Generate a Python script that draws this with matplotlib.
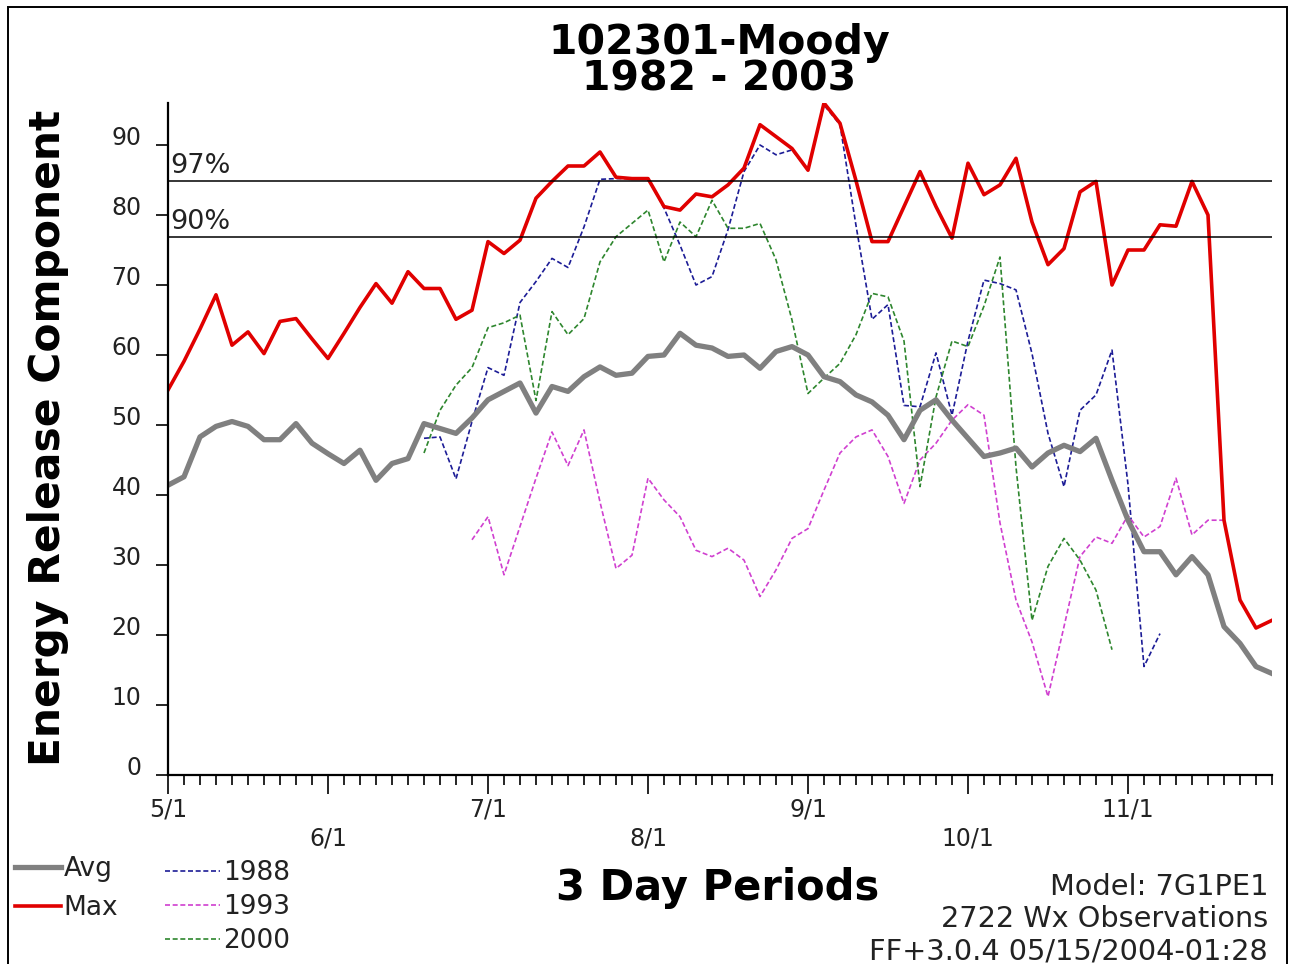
import numpy as np
import matplotlib.pyplot as plt
from matplotlib.lines import Line2D
from matplotlib.patches import Rectangle

# 3-day period index, 0 = 5/1
n_periods = 70
month_ticks = [0, 10, 20, 30, 40, 50, 60]
month_labels = ['5/1', '\n6/1', '7/1', '\n8/1', '9/1', '\n10/1', '11/1']

avg = [41.4, 42.6, 48.3, 49.8, 50.5, 49.8, 47.9, 47.9, 50.2, 47.4,
       45.9, 44.5, 46.4, 42.1, 44.5, 45.2, 50.2, 49.5, 48.8, 51.0,
       53.6, 54.8, 56.0, 51.7, 55.5, 54.8, 56.9, 58.3, 57.1, 57.4,
       59.8, 60.0, 63.1, 61.4, 61.0, 59.8, 60.0, 58.1, 60.5, 61.2,
       60.0, 56.9, 56.2, 54.3, 53.3, 51.4, 47.9, 52.1, 53.6, 50.7,
       48.1, 45.5, 46.0, 46.7, 44.0, 46.0, 47.1, 46.2, 48.1, 42.1,
       36.4, 31.9, 31.9, 28.6, 31.2, 28.6, 21.2, 18.8, 15.5, 14.5]

vmax = [55.0, 59.1, 63.7, 68.6, 61.4, 63.3, 60.2, 64.8, 65.2, 62.3,
        59.5, 63.1, 66.8, 70.2, 67.4, 71.9, 69.5, 69.5, 65.1, 66.4,
        76.2, 74.5, 76.4, 82.4, 84.8, 87.0, 87.0, 89.0, 85.4, 85.2,
        85.2, 81.2, 80.7, 83.0, 82.6, 84.3, 86.7, 92.9, 91.2, 89.5,
        86.4, 96.0, 93.1, 84.9, 76.2, 76.2, 81.2, 86.2, 81.2, 76.7,
        87.4, 82.9, 84.3, 88.1, 79.0, 72.9, 75.2, 83.3, 84.8, 70.0,
        75.0, 75.0, 78.6, 78.4, 84.8, 80.0, 36.4, 25.0, 21.0, 22.1]

start_1988 = 16
y1988 = [48.1, 48.3, 42.3, 50.5, 58.2, 57.1, 67.5, 70.5, 73.8, 72.5,
         78.3, 85.1, 85.2, 85.2, 85.2, 81.0, 75.7, 70.0, 71.2, 77.9,
         86.2, 90.0, 88.6, 89.3, 86.4, 95.7, 92.9, 78.5, 65.1, 67.2,
         52.8, 52.6, 60.3, 51.4, 62.0, 70.7, 70.2, 69.3, 60.2, 48.8,
         41.2, 52.1, 54.3, 60.7, 41.5, 15.5, 20.2]

start_1993 = 19
y1993 = [33.6, 36.9, 28.6, 35.5, 42.4, 49.0, 44.2, 49.3, 39.0, 29.5,
         31.4, 42.4, 39.3, 36.9, 32.1, 31.2, 32.4, 30.7, 25.5, 29.3,
         33.8, 35.2, 40.7, 46.0, 48.3, 49.3, 45.5, 38.8, 45.0, 47.4,
         50.7, 52.9, 51.4, 36.0, 25.0, 19.0, 11.2, 21.2, 31.2, 34.0,
         33.1, 37.1, 34.0, 35.5, 42.4, 34.3, 36.4, 36.4]

start_2000 = 16
y2000 = [46.0, 52.1, 55.7, 58.2, 63.9, 64.6, 65.7, 53.5, 66.2, 62.9,
         65.2, 73.3, 76.9, 78.8, 80.7, 73.3, 79.0, 76.9, 82.1, 78.1,
         78.1, 78.8, 73.6, 65.0, 54.5, 56.7, 58.8, 62.9, 68.8, 68.3,
         62.0, 41.2, 54.0, 62.0, 61.2, 67.0, 74.0, 44.0, 22.1, 29.8,
         33.8, 30.7, 26.4, 17.9]

pct_levels = [84.9, 76.9]
pct_labels = ['97%', '90%']

C_AVG = '#808080'
C_MAX = '#e00000'
C_88 = '#1c1c96'
C_93 = '#d040d0'
C_00 = '#2e862e'
TXT = '#222222'

fig = plt.figure(figsize=(12.92, 9.64), dpi=100)
ax = fig.add_axes([168 / 1292, 189 / 964, 1104 / 1292, 672 / 964])

x = np.arange(n_periods)
dash = (3, 1.6)
ax.plot(np.arange(start_1988, start_1988 + len(y1988)), y1988, color=C_88, lw=1.2, dashes=dash)
ax.plot(np.arange(start_1993, start_1993 + len(y1993)), y1993, color=C_93, lw=1.2, dashes=dash)
ax.plot(np.arange(start_2000, start_2000 + len(y2000)), y2000, color=C_00, lw=1.2, dashes=dash)
ax.plot(x, avg, color=C_AVG, lw=3.8, solid_joinstyle='round')
ax.plot(x, vmax, color=C_MAX, lw=2.6, solid_joinstyle='round')

for lev, lab in zip(pct_levels, pct_labels):
    ax.axhline(lev, color='black', lw=1.1)
    ax.text(0.15, lev + 0.3, lab, fontsize=19.5, color=TXT, ha='left', va='bottom')

ax.set_xlim(0, n_periods - 1)
ax.set_ylim(0, 96)
for s in ['top', 'right']:
    ax.spines[s].set_visible(False)
for s in ['left', 'bottom']:
    ax.spines[s].set_linewidth(1.6)

ax.set_yticks(range(0, 91, 10))
ax.tick_params(axis='y', length=9, width=1.2, pad=10, labelsize=17, labelcolor=TXT)
for lab in ax.get_yticklabels():
    lab.set_verticalalignment('baseline')

ax.set_xticks(month_ticks)
ax.set_xticklabels(month_labels, linespacing=1.3)
ax.set_xticks(np.arange(n_periods), minor=True)
ax.tick_params(axis='x', which='major', length=14, width=1.2, pad=2, labelsize=17, labelcolor=TXT)
ax.tick_params(axis='x', which='minor', length=7, width=1.2)

# titles and axis labels
fig.text(719 / 1292, 1 - 61 / 964, '102301-Moody\n1982 - 2003', ha='center', va='center',
         fontsize=29.5, weight='bold', linespacing=0.9)
fig.text(48 / 1292, 1 - 438 / 964, 'Energy Release Component', rotation=90,
         ha='center', va='center', fontsize=30.5, weight='bold')
fig.text(718 / 1292, 1 - 888 / 964, '3 Day Periods', ha='center', va='center',
         fontsize=30, weight='bold')

for yy, t in zip([887, 919, 951], ['Model: 7G1PE1', '2722 Wx Observations',
                                   'FF+3.0.4 05/15/2004-01:28']):
    fig.text(1268 / 1292, 1 - yy / 964, t, ha='right', va='center', fontsize=20.7, color=TXT)

# legends
h1 = [Line2D([], [], color=C_AVG, lw=3.8), Line2D([], [], color=C_MAX, lw=2.6)]
fig.legend(h1, ['Avg', 'Max'], loc='upper left', bbox_to_anchor=(15 / 1292, 1 - 856 / 964),
           frameon=False, fontsize=19, handlelength=1.75, handletextpad=0.1,
           borderpad=0, borderaxespad=0, labelspacing=0.5, labelcolor=TXT)
h2 = [Line2D([], [], color=c, lw=1.2, dashes=dash) for c in [C_88, C_93, C_00]]
fig.legend(h2, ['1988', '1993', '2000'], loc='upper left',
           bbox_to_anchor=(165 / 1292, 1 - 860 / 964), frameon=False, fontsize=19,
           handlelength=2.1, handletextpad=0.1, borderpad=0, borderaxespad=0,
           labelspacing=0.3, labelcolor=TXT)

fig.patches.append(Rectangle((8 / 1292, -0.01), 1279 / 1292, 1.01 - 7 / 964,
                             transform=fig.transFigure, fill=False, lw=1.4, ec='black'))

fig.savefig('out.png', dpi=100)
